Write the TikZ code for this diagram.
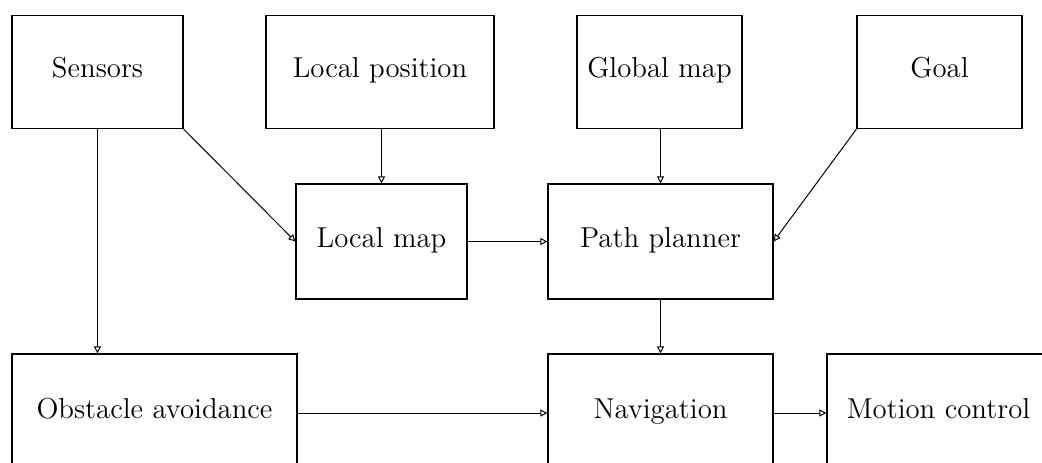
\documentclass[tikz,border=0pt]{standalone}
\usetikzlibrary{arrows.meta}

\tikzset{
  block/.style={draw,line width=0.6pt,inner sep=0pt,font=\Large,
    text height=1.6ex,text depth=0.3ex,minimum height=56.5pt},
  feed/.style={line width=0.5pt,
    -{Triangle[open,length=3.5pt,width=3.5pt]}}
}

\begin{document}
\begin{tikzpicture}[x=0.5pt,y=-0.5pt]
\useasboundingbox (0,0) rectangle (1042,462);
\clip (0,0) rectangle (1042,462);
% The inputs along the top:
\foreach \name/\x/\w/\text in {sensors/97.5/85.5/Sensors,
  local position/380/114/Local position,
  global map/659.5/82.5/Global map,
  goal/939.5/82.5/Goal}
{
\node [block,minimum width=\w pt] (\name) at (\x,72) {\text};
}
% The two maps in the middle:
\node [block,minimum width=85.5pt,minimum height=57.5pt] (local map)
  at (381.5,241.5) {Local map};
\node [block,minimum width=112.5pt,minimum height=57.5pt] (path planner)
  at (660.5,241.5) {Path planner};
% And the bottom row, which runs off the page:
\node [block,minimum width=142.5pt,minimum height=59pt] (obstacle avoidance)
  at (154.5,413) {Obstacle avoidance};
\node [block,minimum width=112.5pt,minimum height=59pt] (navigation)
  at (660.5,413) {Navigation};
\node [block,minimum width=111.5pt,minimum height=59pt] (motion control)
  at (938.5,413) {Motion control};

\draw [feed] (sensors.south) -- (sensors.south |- obstacle avoidance.north);
\draw [feed] (sensors.south east) -- (local map.west);
\draw [feed] (local map.north |- local position.south) -- (local map.north);
\draw [feed] (path planner.north |- global map.south) -- (path planner.north);
\draw [feed] (goal.south west) -- (path planner.east);
\draw [feed] (local map) -- (path planner);
\draw [feed] (path planner) -- (navigation);
\draw [feed] (obstacle avoidance) -- (navigation);
\draw [feed] (navigation) -- (motion control);
\end{tikzpicture}
\end{document}
